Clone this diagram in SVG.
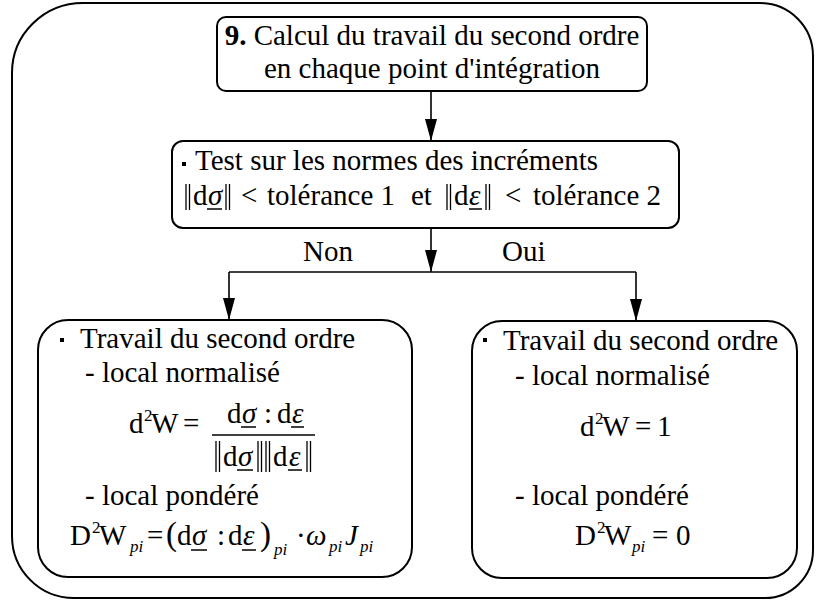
<svg xmlns="http://www.w3.org/2000/svg" width="817" height="603" viewBox="0 0 817 603" font-family="Liberation Serif, Times New Roman, serif">
<style type="text/css">
text{font-size:29px;fill:#000}
.it{font-style:italic}
.sup{font-size:17px}
.sub{font-size:17px;font-style:italic}
.box{fill:#fff;stroke:#000;stroke-width:2}
.ln{stroke:#000;stroke-width:1.6;fill:none}
.bar{stroke:#000;stroke-width:1.3;fill:none}
.ul{stroke:#000;stroke-width:1.5}
</style>
<defs>
<marker id="ah2" viewBox="0 0 22 12" refX="22" refY="6" markerWidth="22" markerHeight="12" markerUnits="userSpaceOnUse" orient="auto">
<path d="M0,0 L22,6 L0,12 Z" fill="#000"/>
</marker>
</defs>
<rect width="817" height="603" fill="#fff"/>
<g id="frame">
<path class="box" fill="none" d="M83,3 H760 A53,53 0 0 1 813,56 V550 A48,48 0 0 1 765,598 H74 A62,62 0 0 1 12,536 V73 A71,70 0 0 1 83,3 Z"/>
</g>
<g id="connectors">
<line class="ln" x1="431" y1="91" x2="431" y2="141" marker-end="url(#ah2)"/>
<line class="ln" x1="431" y1="228" x2="431" y2="272" marker-end="url(#ah2)"/>
<line class="ln" x1="229" y1="272" x2="636" y2="272"/>
<line class="ln" x1="229" y1="272" x2="229" y2="320" marker-end="url(#ah2)"/>
<line class="ln" x1="636" y1="272" x2="636" y2="321" marker-end="url(#ah2)"/>
<text x="303" y="261">Non</text>
<text x="502" y="261">Oui</text>
</g>
<g id="n9">
<rect class="box" x="217" y="17" width="430" height="74" rx="9"/>
<text x="432" y="45" text-anchor="middle"><tspan font-weight="bold">9.</tspan> Calcul du travail du second ordre</text>
<text x="432" y="78" text-anchor="middle">en chaque point d'intégration</text>
</g>
<g id="test">
<rect class="box" x="172" y="141" width="507" height="87" rx="11"/>
<rect x="182" y="162" width="4" height="4"/>
<text x="195" y="170">Test sur les normes des incréments</text>
<path class="bar" d="M186,184 V210 M189.5,184 V210 M226,184 V210 M229.5,184 V210 M447,184 V210 M450.5,184 V210 M486,184 V210 M489.5,184 V210"/>
<text y="205"><tspan x="193">d</tspan><tspan x="208" class="it">σ</tspan><tspan x="241">&lt;</tspan><tspan x="267">tolérance 1</tspan><tspan x="411">et</tspan><tspan x="454">d</tspan><tspan x="469" class="it">ε</tspan><tspan x="505">&lt;</tspan><tspan x="533">tolérance 2</tspan></text>
<line class="ul" x1="207" y1="209" x2="222" y2="209"/>
<line class="ul" x1="469" y1="209" x2="482" y2="209"/>
</g>
<g id="non">
<rect class="box" x="38" y="320" width="374" height="257" rx="30"/>
<rect x="60" y="338" width="4" height="4"/>
<text x="80" y="348">Travail du second ordre</text>
<text x="85" y="382">- local normalisé</text>
<text y="433"><tspan x="129">d</tspan><tspan x="144" y="421" class="sup">2</tspan><tspan x="151" y="433">W</tspan><tspan x="183">=</tspan></text>
<text y="423"><tspan x="227">d</tspan><tspan x="242" class="it">σ</tspan><tspan x="264">:</tspan><tspan x="277">d</tspan><tspan x="292" class="it">ε</tspan></text>
<line class="ul" x1="241" y1="427" x2="256" y2="427"/>
<line class="ul" x1="291" y1="427" x2="304" y2="427"/>
<line class="ul" x1="212" y1="435" x2="315" y2="435"/>
<path class="bar" d="M216,441 V472 M219.5,441 V472 M258,441 V472 M261.5,441 V472 M266,441 V472 M269.5,441 V472 M307,441 V472 M310.5,441 V472"/>
<text y="466"><tspan x="223">d</tspan><tspan x="238" class="it">σ</tspan><tspan x="273">d</tspan><tspan x="289" class="it">ε</tspan></text>
<line class="ul" x1="237" y1="470" x2="253" y2="470"/>
<line class="ul" x1="288" y1="470" x2="302" y2="470"/>
<text x="85" y="505">- local pondéré</text>
<text y="545"><tspan x="70">D</tspan><tspan x="92" y="533" class="sup">2</tspan><tspan x="99" y="545">W</tspan><tspan x="130" y="552" class="sub">pi</tspan><tspan x="147" y="545">=</tspan><tspan x="166" font-size="33">(</tspan><tspan x="177">d</tspan><tspan x="192" class="it">σ</tspan><tspan x="217">:</tspan><tspan x="228">d</tspan><tspan x="243" class="it">ε</tspan><tspan x="260" font-size="33">)</tspan><tspan x="274" y="555" class="sub">pi</tspan><tspan x="296" y="545">·</tspan><tspan x="306" class="it">ω</tspan><tspan x="329" y="552" class="sub">pi</tspan><tspan x="345" y="545" class="it">J</tspan><tspan x="360" y="552" class="sub">pi</tspan></text>
<line class="ul" x1="191" y1="550" x2="207" y2="550"/>
<line class="ul" x1="242" y1="550" x2="256" y2="550"/>
</g>
<g id="oui">
<rect class="box" x="472" y="321" width="325" height="257" rx="30"/>
<rect x="483" y="338" width="4" height="4"/>
<text x="503" y="350">Travail du second ordre</text>
<text x="515" y="385">- local normalisé</text>
<text y="436"><tspan x="580">d</tspan><tspan x="595" y="424" class="sup">2</tspan><tspan x="602" y="436">W</tspan><tspan x="635">=</tspan><tspan x="657">1</tspan></text>
<text x="515" y="505">- local pondéré</text>
<text y="545"><tspan x="575">D</tspan><tspan x="597" y="533" class="sup">2</tspan><tspan x="604" y="545">W</tspan><tspan x="632" y="552" class="sub">pi</tspan><tspan x="652" y="545">=</tspan><tspan x="676">0</tspan></text>
</g>
</svg>
